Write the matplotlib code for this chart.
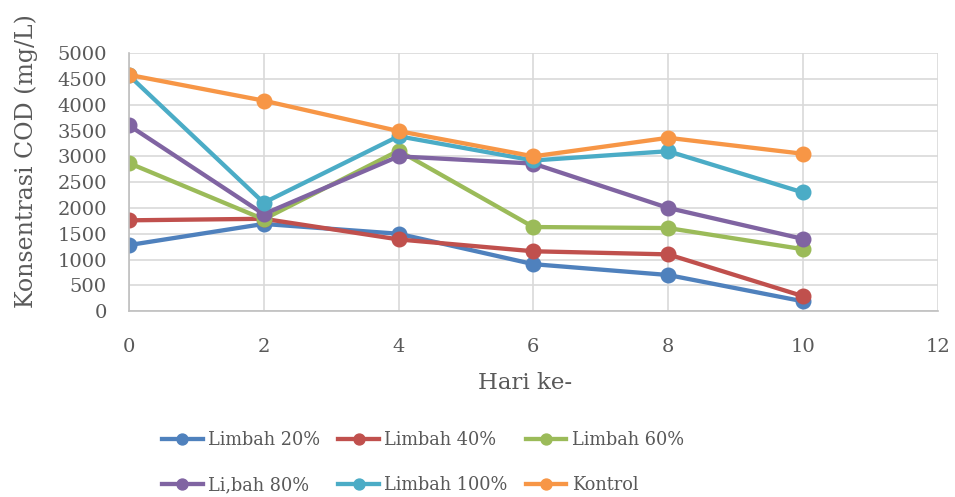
import matplotlib.pyplot as plt

# hari pengamatan dan konsentrasi COD (mg/L)
hari = [0, 2, 4, 6, 8, 10]
limbah20 = [1280, 1690, 1500, 910, 700, 190]
limbah40 = [1760, 1790, 1390, 1160, 1100, 290]
limbah60 = [2870, 1780, 3110, 1630, 1610, 1200]
limbah80 = [3600, 1880, 3000, 2860, 2000, 1400]
limbah100 = [4570, 2100, 3390, 2920, 3100, 2300]
kontrol = [4580, 4080, 3490, 3000, 3360, 3050]

nama = ['Limbah 20%', 'Limbah 40%', 'Limbah 60%', 'Li,bah 80%', 'Limbah 100%', 'Kontrol']
warna = ['#4F81BD', '#C0504D', '#9BBB59', '#8064A2', '#4BACC6', '#F79646']

plt.rcParams['font.family'] = ['DejaVu Serif']
abu = '#595959'

fig = plt.figure(figsize=(9.55, 4.97), dpi=100)
ax = fig.add_axes([0.135, 0.374, 0.847, 0.519])

garis = []
for data, label, c in zip([limbah20, limbah40, limbah60, limbah80, limbah100, kontrol], nama, warna):
    g, = ax.plot(hari, data, color=c, linewidth=3.1, marker='o', markersize=10.5, label=label)
    garis.append(g)

ax.set_xlim(0, 12)
ax.set_ylim(0, 5000)
ax.set_xticks(range(0, 13, 2))
ax.set_yticks(range(0, 5001, 500))
ax.grid(True, color='#d9d9d9', linewidth=1.2)
ax.set_axisbelow(True)
for s in ['top', 'right']:
    ax.spines[s].set_visible(False)
for s in ['left', 'bottom']:
    ax.spines[s].set_color('#bfbfbf')
    ax.spines[s].set_linewidth(1.2)
ax.tick_params(length=0, labelsize=14, colors=abu)
ax.tick_params(axis='y', pad=16)
ax.tick_params(axis='x', pad=19)
for lab in ax.get_xticklabels() + ax.get_yticklabels():
    lab.set_clip_on(False)

ax.set_xlabel('Hari ke-', fontsize=16.5, color=abu)
ax.set_ylabel('Konsentrasi COD (mg/L)', fontsize=17, color=abu)
ax.xaxis.set_label_coords(0.49, -0.235)
ax.yaxis.set_label_coords(-0.112, 0.581)

# legenda diisi per baris
urut = [0, 3, 1, 4, 2, 5]
fig.legend([garis[i] for i in urut], [nama[i] for i in urut],
           loc='upper left', bbox_to_anchor=(162 / 955, 0.132), ncol=3,
           frameon=False, fontsize=12.8, labelcolor=abu, handlelength=2.3,
           columnspacing=1.0, handletextpad=0.3, labelspacing=1.5,
           borderaxespad=0, borderpad=0, markerscale=0.75)

fig.savefig('out.png', dpi=100)
